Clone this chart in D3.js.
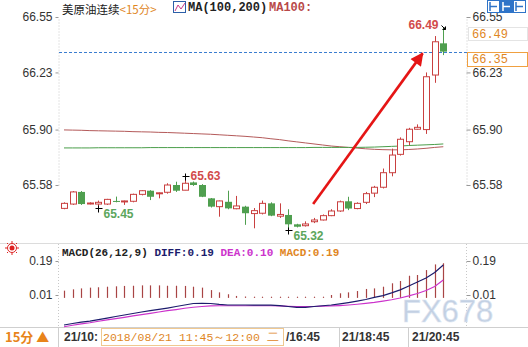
<!DOCTYPE html>
<html>
<head>
<meta charset="utf-8">
<script src="https://cdn.jsdelivr.net/npm/d3@7"></script>
<style>
    body { margin: 0; background: #fff; }
    svg { display: block; font-family: "Liberation Sans", Arial, sans-serif; }
</style>
</head>
<body>
<div id="chart"></div>
<script>
// 15 minute candles, crude oil continuous
const opens = [65.445, 65.470, 65.540, 65.472, 65.470, 65.470, 65.488, 65.484, 65.486, 65.526, 65.547, 65.530, 65.538, 65.580, 65.550,
    65.595, 65.580, 65.503, 65.455, 65.483, 65.443, 65.455, 65.415, 65.417, 65.474, 65.400, 65.407, 65.353, 65.345, 65.368,
    65.378, 65.403, 65.430, 65.486, 65.444, 65.480, 65.533, 65.567, 65.651, 65.757, 65.830, 65.902, 65.900, 66.215, 66.398];
const closes = [65.474, 65.540, 65.470, 65.476, 65.480, 65.497, 65.484, 65.488, 65.526, 65.547, 65.512, 65.535, 65.580, 65.547, 65.590,
    65.580, 65.512, 65.455, 65.488, 65.445, 65.459, 65.417, 65.432, 65.474, 65.403, 65.410, 65.353, 65.339, 65.355, 65.378,
    65.403, 65.430, 65.483, 65.444, 65.474, 65.530, 65.567, 65.651, 65.753, 65.844, 65.902, 65.913, 66.205, 66.407, 66.350];
const highs = [65.480, 65.545, 65.545, 65.480, 65.490, 65.500, 65.513, 65.490, 65.530, 65.550, 65.550, 65.537, 65.590, 65.599, 65.630,
    65.600, 65.585, 65.505, 65.490, 65.547, 65.517, 65.460, 65.447, 65.490, 65.480, 65.474, 65.440, 65.356, 65.370, 65.390,
    65.410, 65.440, 65.490, 65.512, 65.480, 65.540, 65.575, 65.675, 65.790, 65.855, 65.910, 65.930, 66.230, 66.440, 66.490];
const lows = [65.440, 65.465, 65.465, 65.468, 65.450, 65.465, 65.480, 65.465, 65.480, 65.520, 65.493, 65.503, 65.530, 65.540, 65.550,
    65.575, 65.510, 65.450, 65.397, 65.440, 65.440, 65.350, 65.330, 65.410, 65.400, 65.390, 65.320, 65.335, 65.340, 65.360,
    65.375, 65.400, 65.425, 65.435, 65.440, 65.470, 65.510, 65.560, 65.630, 65.750, 65.810, 65.900, 65.875, 66.170, 66.330];

const ma100 = [65.898, 65.897, 65.896, 65.894, 65.893, 65.892, 65.891, 65.890, 65.888, 65.887, 65.886, 65.884, 65.883, 65.881, 65.879,
    65.877, 65.875, 65.873, 65.870, 65.867, 65.864, 65.861, 65.857, 65.853, 65.847, 65.842, 65.835, 65.829, 65.823, 65.817,
    65.811, 65.805, 65.801, 65.797, 65.793, 65.789, 65.786, 65.784, 65.783, 65.783, 65.785, 65.788, 65.792, 65.797, 65.801];
const ma200 = [65.794, 65.794, 65.794, 65.794, 65.795, 65.795, 65.795, 65.795, 65.795, 65.795, 65.796, 65.796, 65.796, 65.796, 65.796,
    65.796, 65.796, 65.796, 65.796, 65.796, 65.796, 65.796, 65.796, 65.796, 65.796, 65.796, 65.796, 65.796, 65.796, 65.797,
    65.797, 65.797, 65.797, 65.797, 65.797, 65.798, 65.799, 65.801, 65.803, 65.805, 65.808, 65.810, 65.812, 65.814, 65.817];

const diff = [-0.149, -0.141, -0.134, -0.128, -0.120, -0.112, -0.104, -0.096, -0.088, -0.080, -0.073, -0.066, -0.059, -0.051, -0.043,
    -0.035, -0.034, -0.035, -0.040, -0.043, -0.043, -0.043, -0.044, -0.044, -0.044, -0.046, -0.051, -0.056, -0.056, -0.051,
    -0.047, -0.043, -0.037, -0.030, -0.022, -0.014, -0.003, 0.007, 0.021, 0.037, 0.058, 0.079, 0.100, 0.129, 0.169];
const dea = [-0.158, -0.150, -0.143, -0.137, -0.129, -0.122, -0.115, -0.108, -0.101, -0.094, -0.087, -0.080, -0.073, -0.067, -0.060,
    -0.055, -0.051, -0.048, -0.047, -0.047, -0.047, -0.047, -0.047, -0.047, -0.047, -0.048, -0.050, -0.051, -0.052, -0.051,
    -0.049, -0.048, -0.046, -0.043, -0.039, -0.034, -0.029, -0.022, -0.015, -0.006, 0.005, 0.018, 0.034, 0.055, 0.089];
const macdHist = [0.033, 0.040, 0.045, 0.049, 0.051, 0.054, 0.056, 0.058, 0.059, 0.061, 0.061, 0.061, 0.059, 0.059, 0.058,
    0.054, 0.049, 0.036, 0.024, 0.014, 0.005, 0.002, 0.001, 0.001, 0.001, 0.001, 0.001, 0.001, 0.001, 0.001,
    0.001, 0.010, 0.019, 0.024, 0.031, 0.042, 0.045, 0.054, 0.072, 0.084, 0.112, 0.116, 0.142, 0.172, 0.178];

const priceTicks = [66.55, 66.23, 65.90, 65.58];
const macdTicks = [0.19, 0.01];
const lastPrice = 66.35;
const extremes = [
    { i: 14, v: 65.63, type: 'high', color: '#d24b4b' },
    { i: 4, v: 65.45, type: 'low', color: '#5ca65c' },
    { i: 26, v: 65.32, type: 'low', color: '#5ca65c' },
    { i: 44, v: 66.49, type: 'top', color: '#d24b4b' }
];
const arrowFrom = { i: 28.9, v: 65.47 };
const arrowTo = { i: 41.6, v: 66.34 };

const W = 528, H = 347;
const RED = '#c94040', GREEN = '#4f9f4f';

const svg = d3.select('#chart').append('svg').attr('width', W).attr('height', H);

const x = d3.scaleLinear().domain([0, opens.length - 1]).range([64, 443.3]);
const y = d3.scaleLinear().domain([65.58, 66.55]).range([185, 17]);
const ym = d3.scaleLinear().domain([0.01, 0.19]).range([295, 261]);
const px = i => Math.round(x(i));

// frame lines
svg.append('line').attr('x1', 0).attr('x2', W).attr('y1', 243.5).attr('y2', 243.5).attr('stroke', '#dcdcdc');
svg.append('line').attr('x1', 0).attr('x2', W).attr('y1', 327.5).attr('y2', 327.5).attr('stroke', '#cfcfcf');

// axes
function styleAxis(g) {
    g.select('.domain').attr('stroke', '#c8c8c8').attr('stroke-dasharray', '1,2');
    g.selectAll('.tick line').attr('stroke', '#999');
    g.selectAll('.tick text').attr('fill', '#333').style('font-size', '12px').style('font-family', '"Liberation Sans", Arial');
}
svg.append('g').attr('transform', 'translate(58.5,0)')
    .call(d3.axisLeft(y).tickValues(priceTicks).tickFormat(d3.format('.2f')).tickSize(3).tickSizeOuter(0))
    .call(styleAxis);
svg.append('g').attr('transform', 'translate(466.5,0)')
    .call(d3.axisRight(y).tickValues(priceTicks).tickFormat(d3.format('.2f')).tickSize(4).tickPadding(2).tickSizeOuter(0))
    .call(styleAxis);
svg.append('g').attr('transform', 'translate(58.5,0)')
    .call(d3.axisLeft(ym).tickValues(macdTicks).tickFormat(d3.format('.2f')).tickSize(3).tickSizeOuter(0))
    .call(styleAxis).select('.domain').remove();
svg.append('g').attr('transform', 'translate(466.5,0)')
    .call(d3.axisRight(ym).tickValues(macdTicks).tickFormat(d3.format('.2f')).tickSize(4).tickPadding(2).tickSizeOuter(0))
    .call(styleAxis).select('.domain').remove();
[58.5, 466.5].forEach(xx => {
    svg.append('line').attr('x1', xx).attr('x2', xx).attr('y1', 244).attr('y2', 327)
        .attr('stroke', '#c8c8c8').attr('stroke-dasharray', '1,2');
});

// last price line
svg.append('line').attr('x1', 59).attr('x2', 470).attr('y1', Math.round(y(lastPrice)) + 0.5).attr('y2', Math.round(y(lastPrice)) + 0.5)
    .attr('stroke', '#3b7dd0').attr('stroke-dasharray', '3,2');

// moving averages
const maLine = d3.line().x((d, i) => x(i)).y(d => y(d));
svg.append('path').attr('d', maLine(ma100)).attr('fill', 'none').attr('stroke', '#b45a5a').attr('stroke-width', 1);
svg.append('path').attr('d', maLine(ma200)).attr('fill', 'none').attr('stroke', '#4a9e4a').attr('stroke-width', 1);

// candles
const candles = svg.append('g').selectAll('g').data(opens).enter().append('g');
candles.append('line')
    .attr('x1', (d, i) => px(i) + 0.5).attr('x2', (d, i) => px(i) + 0.5)
    .attr('y1', (d, i) => y(highs[i])).attr('y2', (d, i) => y(lows[i]))
    .attr('stroke', (d, i) => closes[i] >= d ? RED : GREEN);
candles.append('rect')
    .attr('x', (d, i) => closes[i] >= d ? px(i) - 2.5 : px(i) - 3)
    .attr('width', (d, i) => closes[i] >= d ? 6 : 7)
    .attr('y', (d, i) => y(Math.max(d, closes[i])))
    .attr('height', (d, i) => Math.max(1, y(Math.min(d, closes[i])) - y(Math.max(d, closes[i]))))
    .attr('fill', (d, i) => closes[i] >= d ? '#fff' : GREEN)
    .attr('stroke', (d, i) => closes[i] >= d ? RED : 'none');

// extreme markers
extremes.forEach(e => {
    const cx = px(e.i) + 0.5, cy = Math.round(y(e.v)) + 0.5;
    if (e.type === 'top') {
        svg.append('path').attr('d', `M${cx - 2},${cy - 2}L${cx + 2},${cy + 2}M${cx + 2},${cy - 1}V${cy + 2}H${cx - 1}`).attr('stroke', '#000');
    } else {
        svg.append('path').attr('d', `M${cx - 3},${cy}H${cx + 4}M${cx},${cy - 3}V${cy + 4}`).attr('stroke', '#000');
    }
    const t = svg.append('text').text(e.v.toFixed(2)).attr('fill', e.color)
        .style('font-size', '12px').style('font-weight', 'bold');
    if (e.type === 'top') t.attr('x', cx - 5).attr('y', cy + 1).attr('text-anchor', 'end');
    else if (e.type === 'high') t.attr('x', cx + 5).attr('y', cy + 3);
    else t.attr('x', cx + 5).attr('y', cy + 9);
});

// red arrow
svg.append('defs').append('marker').attr('id', 'head')
    .attr('viewBox', '0 0 10 10').attr('refX', 9).attr('refY', 5)
    .attr('markerWidth', 6).attr('markerHeight', 5).attr('orient', 'auto')
    .append('path').attr('d', 'M0,0L10,5L0,10Z').attr('fill', '#e51515');
svg.append('line')
    .attr('x1', x(arrowFrom.i)).attr('y1', y(arrowFrom.v))
    .attr('x2', x(arrowTo.i)).attr('y2', y(arrowTo.v))
    .attr('stroke', '#e51515').attr('stroke-width', 2.6).attr('marker-end', 'url(#head)');

// MACD
const mLine = d3.line().x((d, i) => x(i)).y(d => ym(d));
svg.append('g').selectAll('line').data(macdHist).enter().append('line')
    .attr('x1', (d, i) => px(i) + 0.5).attr('x2', (d, i) => px(i) + 0.5)
    .attr('y1', ym(0) + 1).attr('y2', d => Math.min(ym(0), ym(d)))
    .attr('stroke', '#a84444').attr('stroke-width', 1.2);
svg.append('path').attr('d', mLine(dea)).attr('fill', 'none').attr('stroke', '#cc33cc').attr('stroke-width', 1.2);
svg.append('path').attr('d', mLine(diff)).attr('fill', 'none').attr('stroke', '#1c1c6c').attr('stroke-width', 1.2);

// watermark
svg.append('text').attr('x', 402).attr('y', 322).text('FX678')
    .attr('fill', '#c3d0e3').attr('stroke', '#dde6f2').attr('stroke-width', 0.6)
    .style('font-size', '31px').style('font-family', '"Liberation Sans", Arial');

// title row
const mono = '"Liberation Mono", "DejaVu Sans Mono", monospace';
const cjk = '"Noto Sans CJK SC", sans-serif';
const title = svg.append('text').attr('x', 62).attr('y', 13.5).style('font-size', '11.5px');
title.append('tspan').text('美原油连续').attr('fill', '#222').style('font-family', cjk);
title.append('tspan').text('<15分>').attr('fill', '#e0861e').style('font-family', cjk);
svg.append('rect').attr('x', 173.5).attr('y', 1.5).attr('width', 12).attr('height', 11).attr('fill', '#fff').attr('stroke', '#2d5fa8');
svg.append('path').attr('d', 'M175,11L178,5L181,9L185,3').attr('fill', 'none').attr('stroke', '#c83a8a');
svg.append('text').attr('x', 188).attr('y', 11).text('MA(100,200)').attr('fill', '#222')
    .style('font-size', '12px').style('font-family', mono).style('font-weight', 'bold');
svg.append('text').attr('x', 269).attr('y', 11).text('MA100:').attr('fill', '#b84848')
    .style('font-size', '12px').style('font-family', mono).style('font-weight', 'bold');

// toolbar icons
[487, 500, 513].forEach((ix, k) => {
    svg.append('rect').attr('x', ix + 0.5).attr('y', 0.5).attr('width', 12).attr('height', 12)
        .attr('fill', k === 1 ? '#2f74c8' : '#fff').attr('stroke', '#2f74c8');
    svg.append('path').attr('d', `M${ix + 3},2V11M${ix + 3},6.5H${ix + 10}`)
        .attr('stroke', k === 1 ? '#fff' : '#2f74c8').attr('stroke-width', 1.5);
});

// right price boxes
svg.append('rect').attr('x', 468.5).attr('y', 27.5).attr('width', 59).attr('height', 13).attr('fill', '#fff').attr('stroke', '#e4e4e4');
svg.append('text').attr('x', 472).attr('y', 38).text('66.49').attr('fill', '#e0861e').style('font-size', '12px').style('font-family', mono);
svg.append('rect').attr('x', 467.5).attr('y', Math.round(y(lastPrice)) + 0.5).attr('width', 60).attr('height', 14).attr('fill', '#fff').attr('stroke', '#f0a040');
svg.append('text').attr('x', 472).attr('y', y(lastPrice) + 11).text(lastPrice.toFixed(2)).attr('fill', '#e0861e').style('font-size', '12px').style('font-family', mono);

// MACD title
const mt = svg.append('text').attr('x', 62).attr('y', 256).style('font-size', '11px').style('font-family', mono).style('font-weight', 'bold');
mt.append('tspan').text('MACD(26,12,9) ').attr('fill', '#222');
mt.append('tspan').text('DIFF:0.19 ').attr('fill', '#1c1c6c');
mt.append('tspan').text('DEA:0.10 ').attr('fill', '#cc33cc');
mt.append('tspan').text('MACD:0.19').attr('fill', '#e0861e');

// sun icon
const sun = svg.append('g').attr('transform', 'translate(12,248)');
sun.append('circle').attr('r', 2.5).attr('fill', '#d22');
sun.append('circle').attr('r', 4.5).attr('fill', 'none').attr('stroke', '#d22');
sun.append('path').attr('d', 'M-7,0H-5M5,0H7M0,-7V-5M0,5V7M-5,-5L-4,-4M4,4L5,5M-5,5L-4,4M4,-4L5,-5').attr('stroke', '#d22');

// bottom bar
svg.append('text').attr('x', 5).attr('y', 342).text('15分 ▲').attr('fill', '#e8841a')
    .style('font-size', '13px').style('font-weight', 'bold').style('font-family', cjk);
[58.5, 339.5, 408.5].forEach(xx => {
    svg.append('line').attr('x1', xx).attr('x2', xx).attr('y1', 328).attr('y2', H).attr('stroke', '#cfcfcf');
});
const timeLabels = [{ x: 64, t: '21/10:' }, { x: 286, t: '/16:45' }, { x: 342, t: '21/18:45' }, { x: 412, t: '21/20:45' }];
timeLabels.forEach(d => {
    svg.append('text').attr('x', d.x).attr('y', 341).text(d.t).attr('fill', '#333')
        .style('font-size', '12px').style('font-weight', 'bold');
});
svg.append('rect').attr('x', 101.5).attr('y', 328.5).attr('width', 182).attr('height', 17).attr('fill', '#fff').attr('stroke', '#f0c890');
svg.append('text').attr('x', 103).attr('y', 341).text('2018/08/21 11:45～12:00 二').attr('fill', '#e0861e')
    .style('font-size', '11.5px').style('font-family', mono);
</script>
</body>
</html>
